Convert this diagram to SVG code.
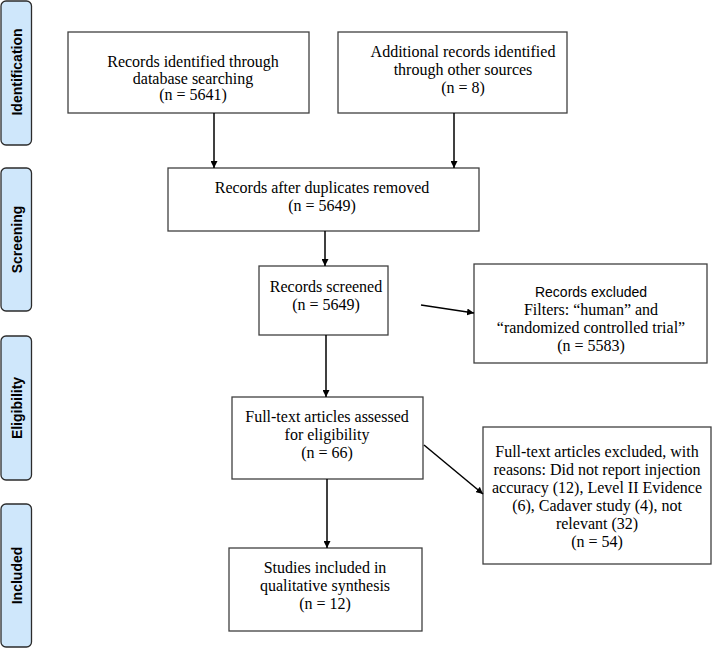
<svg xmlns="http://www.w3.org/2000/svg" width="715" height="648" viewBox="0 0 715 648">
<style>
.bg{fill:#ffffff}
.phase rect{fill:#cfe7fb;stroke:#2b2b2b;stroke-width:1.3}
.phase text{font-family:"Liberation Sans",Arial,sans-serif;font-weight:bold;font-size:14px;fill:#000;text-anchor:middle}
.box rect{fill:#ffffff;stroke:#404040;stroke-width:1.3}
.box text{font-family:"Liberation Serif","Times New Roman",serif;font-size:16px;fill:#000;text-anchor:middle}
.box text.sans{font-family:"Liberation Sans",Arial,sans-serif;font-size:14px}
.conn line{stroke:#000;stroke-width:1.5}
</style>
<defs>
<marker id="ah" viewBox="0 0 10 10" refX="10" refY="5" markerWidth="7" markerHeight="7" markerUnits="userSpaceOnUse" orient="auto">
<path d="M0,0 L10,5 L0,10 z" fill="#000"/>
</marker>
</defs>
<rect class="bg" x="0" y="0" width="715" height="648"/>

<g id="phase-identification" class="phase">
<rect x="1" y="1" width="30.5" height="144" rx="5"/>
<text transform="translate(22,72) rotate(-90)">Identification</text>
</g>
<g id="phase-screening" class="phase">
<rect x="1" y="168" width="30.5" height="143" rx="5"/>
<text transform="translate(22,239.5) rotate(-90)">Screening</text>
</g>
<g id="phase-eligibility" class="phase">
<rect x="1" y="336" width="30.5" height="144" rx="5"/>
<text transform="translate(22,408) rotate(-90)">Eligibility</text>
</g>
<g id="phase-included" class="phase">
<rect x="1" y="504" width="30.5" height="143" rx="5"/>
<text transform="translate(22,575.5) rotate(-90)">Included</text>
</g>

<g id="box-database" class="box">
<rect x="68" y="32" width="241" height="81"/>
<text x="193" y="67">Records identified through</text>
<text x="193" y="84">database searching</text>
<text x="193" y="100">(n = 5641)</text>
</g>
<g id="box-other" class="box">
<rect x="338" y="32" width="229" height="81"/>
<text x="463" y="57">Additional records identified</text>
<text x="463" y="75">through other sources</text>
<text x="463" y="93">(n = 8)</text>
</g>
<g id="box-duplicates" class="box">
<rect x="168" y="168" width="311" height="63"/>
<text x="322" y="193">Records after duplicates removed</text>
<text x="322" y="211">(n = 5649)</text>
</g>
<g id="box-screened" class="box">
<rect x="259" y="266" width="129" height="69"/>
<text x="326" y="292">Records screened</text>
<text x="326" y="310">(n = 5649)</text>
</g>
<g id="box-excluded" class="box">
<rect x="474" y="264" width="233" height="99"/>
<text class="sans" x="591" y="297">Records excluded</text>
<text x="591" y="315">Filters: “human” and</text>
<text x="591" y="333">“randomized controlled trial”</text>
<text x="591" y="351">(n = 5583)</text>
</g>
<g id="box-assessed" class="box">
<rect x="232" y="397" width="191" height="82"/>
<text x="327" y="422">Full-text articles assessed</text>
<text x="327" y="440">for eligibility</text>
<text x="327" y="458">(n = 66)</text>
</g>
<g id="box-fulltext-excluded" class="box">
<rect x="483" y="427" width="228" height="137"/>
<text x="597" y="457">Full-text articles excluded, with</text>
<text x="597" y="475">reasons: Did not report injection</text>
<text x="597" y="493">accuracy (12), Level II Evidence</text>
<text x="597" y="511">(6), Cadaver study (4), not</text>
<text x="597" y="529">relevant (32)</text>
<text x="597" y="547">(n = 54)</text>
</g>
<g id="box-included" class="box">
<rect x="229" y="548" width="193" height="83"/>
<text x="325" y="573">Studies included in</text>
<text x="325" y="591">qualitative synthesis</text>
<text x="325" y="609">(n = 12)</text>
</g>

<g id="connectors" class="conn">
<line x1="214" y1="113" x2="214" y2="168" marker-end="url(#ah)"/>
<line x1="454" y1="113" x2="454" y2="168" marker-end="url(#ah)"/>
<line x1="325" y1="231" x2="325" y2="266" marker-end="url(#ah)"/>
<line x1="421" y1="305" x2="474" y2="313" marker-end="url(#ah)"/>
<line x1="326" y1="335" x2="326" y2="397" marker-end="url(#ah)"/>
<line x1="424" y1="445" x2="483" y2="494" marker-end="url(#ah)"/>
<line x1="327" y1="479" x2="327" y2="548" marker-end="url(#ah)"/>
</g>
</svg>
